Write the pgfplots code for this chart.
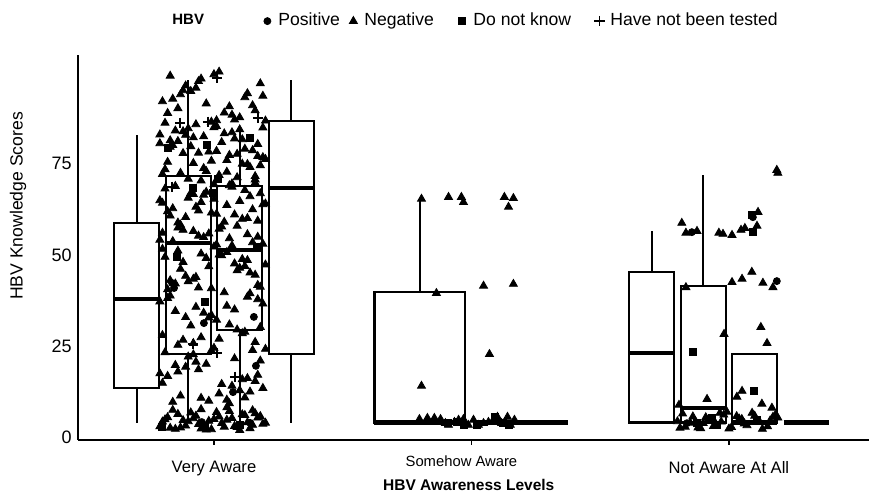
\documentclass[border=0pt]{standalone}
\usepackage{pgfplots}
\pgfplotsset{compat=1.18}
\usepackage{fontspec}
\setmainfont{Liberation Sans}
\begin{document}
\begin{tikzpicture}
\begin{axis}[
  at={(0pt,0pt)}, anchor=south west,
  scale only axis, width=395.5pt, height=192.5pt,
  xmin=0.472, xmax=3.544, ymin=-0.6, ymax=104.8,
  axis lines*=left,
  axis line style={line width=1pt},
  xtick={1,2,3},
  xticklabels={{\fontsize{8.3}{10}\selectfont Very Aware},{\hbox{\raisebox{2.5pt}[\height][\depth]{\fontsize{7.4}{9}\selectfont Somehow Aware}\kern10pt}},{\fontsize{8.3}{10}\selectfont Not Aware At All}},
  xticklabel style={yshift=-4.5pt},
  ytick={0,25,50,75},
  yticklabel style={font=\fontsize{9}{10}\selectfont, xshift=2.8pt},
  /pgf/number format/assume math mode=true,
  tick align=outside,
  major tick length=2.5pt,
  xtick style={line width=0.8pt, black},
  ytick style={draw=none},
  ylabel={HBV Knowledge Scores},
  ylabel style={at={(axis description cs:-0.0759,0.608)}, anchor=center, font=\fontsize{8.8}{10}\selectfont},
  xlabel={\textbf{HBV Awareness Levels}},
  xlabel style={at={(axis description cs:0.494,-0.117)}, anchor=center, font=\fontsize{7.75}{9}\selectfont},
  legend columns=-1,
  legend style={at={(axis description cs:0.1125,1.088)}, anchor=west, draw=none, fill=none, inner sep=0pt,
    font=\fontsize{8.8}{10}\selectfont, nodes={inner sep=0pt},
    /tikz/every even column/.append style={column sep=0pt},
    /tikz/every odd column/.append style={column sep=2.5pt}},
  legend image code/.code={\path[draw=none,fill=none] (-3pt,-3pt) rectangle (3pt,3pt); \draw[#1] plot coordinates {(0pt,0pt)};},
]
% ================= boxplots (box, whiskers, median) =================
% Very Aware - Positive
\addplot[forget plot, draw=black, fill=white, line width=1.1pt] coordinates {(0.6125,13.6)(0.7875,13.6)(0.7875,58.8)(0.6125,58.8)} -- cycle;
\addplot[forget plot, black, line width=1.1pt] coordinates {(0.7,58.8)(0.7,82.9)};
\addplot[forget plot, black, line width=1.1pt] coordinates {(0.7,4.17)(0.7,13.6)};
\addplot[forget plot, black, line width=2.2pt] coordinates {(0.6125,38.0)(0.7875,38.0)};
% Very Aware - Negative
\addplot[forget plot, draw=black, fill=white, line width=1.1pt] coordinates {(0.8125,22.9)(0.9875,22.9)(0.9875,71.7)(0.8125,71.7)} -- cycle;
\addplot[forget plot, black, line width=1.1pt] coordinates {(0.9,71.7)(0.9,97.9)};
\addplot[forget plot, black, line width=1.1pt] coordinates {(0.9,4.17)(0.9,22.9)};
\addplot[forget plot, black, line width=2.2pt] coordinates {(0.8125,53.3)(0.9875,53.3)};
% Very Aware - Do not know
\addplot[forget plot, draw=black, fill=white, line width=1.1pt] coordinates {(1.0125,29.5)(1.1875,29.5)(1.1875,69.0)(1.0125,69.0)} -- cycle;
\addplot[forget plot, black, line width=1.1pt] coordinates {(1.1,69.0)(1.1,83.7)};
\addplot[forget plot, black, line width=1.1pt] coordinates {(1.1,4.17)(1.1,29.5)};
\addplot[forget plot, black, line width=2.2pt] coordinates {(1.0125,51.4)(1.1875,51.4)};
% Very Aware - Have not been tested
\addplot[forget plot, draw=black, fill=white, line width=1.1pt] coordinates {(1.2125,22.9)(1.3875,22.9)(1.3875,86.7)(1.2125,86.7)} -- cycle;
\addplot[forget plot, black, line width=1.1pt] coordinates {(1.3,86.7)(1.3,97.9)};
\addplot[forget plot, black, line width=1.1pt] coordinates {(1.3,4.17)(1.3,22.9)};
\addplot[forget plot, black, line width=2.2pt] coordinates {(1.2125,68.4)(1.3875,68.4)};
% Somehow Aware - group 1
\addplot[forget plot, draw=black, fill=white, line width=1.1pt] coordinates {(1.6235,4.17)(1.9765,4.17)(1.9765,39.9)(1.6235,39.9)} -- cycle;
\addplot[forget plot, black, line width=1.1pt] coordinates {(1.8,39.9)(1.8,65.1)};
\addplot[forget plot, black, line width=2.2pt] coordinates {(1.6235,4.17)(1.9765,4.17)};
% Somehow Aware - group 2 (all equal)
\addplot[forget plot, black, line width=2.2pt] coordinates {(2.0235,4.17)(2.3765,4.17)};
% Not Aware - Positive
\addplot[forget plot, draw=black, fill=white, line width=1.1pt] coordinates {(2.6125,4.17)(2.7875,4.17)(2.7875,45.4)(2.6125,45.4)} -- cycle;
\addplot[forget plot, black, line width=1.1pt] coordinates {(2.7,45.4)(2.7,56.6)};
\addplot[forget plot, black, line width=2.2pt] coordinates {(2.6125,23.2)(2.7875,23.2)};
% Not Aware - Negative
\addplot[forget plot, draw=black, fill=white, line width=1.1pt] coordinates {(2.8125,4.17)(2.9875,4.17)(2.9875,41.6)(2.8125,41.6)} -- cycle;
\addplot[forget plot, black, line width=1.1pt] coordinates {(2.9,41.6)(2.9,71.9)};
\addplot[forget plot, black, line width=2.2pt] coordinates {(2.8125,8.2)(2.9875,8.2)};
% Not Aware - Do not know
\addplot[forget plot, draw=black, fill=white, line width=1.1pt] coordinates {(3.0125,4.17)(3.1875,4.17)(3.1875,22.9)(3.0125,22.9)} -- cycle;
\addplot[forget plot, black, line width=2.2pt] coordinates {(3.0125,4.17)(3.1875,4.17)};
% Not Aware - Have not been tested (all equal)
\addplot[forget plot, black, line width=2.2pt] coordinates {(3.2125,4.17)(3.3875,4.17)};
% ================= legend title =================
\addlegendimage{empty legend}
\addlegendentry{\makebox[44.5pt][l]{\fontsize{7.5}{9}\selectfont\textbf{HBV}}}
% ---- Positive (circles)
\addplot[only marks, mark=*, mark size=1.75pt, black] coordinates {
(0.837,42.4)(0.845,41.0)(0.961,31.4)(1.155,33.1)(1.163,19.7)(1.074,12.5)(0.953,4.3)(1.140,4.1)
(2.856,56.3)(3.093,60.4)(3.186,42.9)(2.837,4.0)
};
\addlegendentry{\makebox[34.5pt][l]{Positive}}
% ---- Negative (triangles)
\addplot[only marks, mark=triangle*, mark size=2.3pt, black] coordinates {
(0.80,92.1)(0.93,95.8)(1.07,88.4)(1.18,97.0)(0.86,90.2)(1.01,86.9)(1.13,94.3)(0.83,99.1)(0.97,91.5)(1.10,87.7)(1.19,93.6)(0.89,96.4)(1.04,89.0)(0.81,86.2)(0.95,98.3)(1.15,91.0)(0.91,94.9)(1.08,87.1)(0.84,92.8)(1.02,100.2)(1.16,89.6)(0.88,95.1)(0.99,86.5)(1.12,93.2)(0.82,88.9)(0.94,97.6)(1.06,90.7)(1.20,86.8)(0.87,94.0)(1.00,99.5)
(0.85,84.1)(0.98,78.3)(1.11,81.7)(0.79,83.0)(0.92,75.2)(1.05,72.8)(1.17,80.4)(0.88,77.9)(1.01,85.3)(1.14,74.1)(0.83,79.6)(0.96,82.5)(1.09,71.3)(1.19,76.8)(0.90,84.7)(1.03,80.9)(0.81,73.5)(0.94,78.0)(1.07,83.6)(1.16,70.7)(0.86,81.2)(0.99,75.8)(1.12,79.1)(0.80,72.2)(0.93,85.8)(1.06,77.4)(1.18,74.6)(0.89,82.9)(1.02,71.9)(1.15,78.7)(0.84,80.1)(0.97,73.0)(1.10,84.4)(1.20,76.3)(0.91,79.8)(1.04,83.3)(0.82,75.5)(0.95,70.4)(1.08,81.9)(1.17,77.1)(0.87,72.5)(1.00,85.0)(1.13,74.9)(0.79,80.6)(0.92,82.2)(1.05,76.0)(1.16,71.6)(0.88,83.9)(1.01,78.5)(1.11,75.0)(0.83,81.4)(0.96,73.8)(1.09,77.7)(1.19,84.9)(0.90,70.9)
(0.81,68.2)(0.95,64.5)(1.08,61.1)(1.18,66.9)(0.87,58.3)(1.00,69.4)(1.13,55.7)(0.84,62.8)(0.97,67.3)(1.11,59.9)(0.79,65.0)(0.92,56.6)(1.05,63.7)(1.16,69.8)(0.89,60.4)(1.02,57.2)(1.14,66.1)(0.82,62.0)(0.94,55.3)(1.07,68.7)(1.20,64.1)(0.86,58.9)(0.99,61.6)(1.12,67.8)(0.80,56.1)(0.93,63.2)(1.06,69.1)(1.17,59.4)(0.90,65.7)(1.03,57.8)(1.15,62.5)(0.85,68.9)(0.98,55.9)(1.10,64.8)(0.83,60.8)(0.96,66.5)(1.09,58.0)(1.19,63.9)(0.88,56.9)(1.01,61.3)(0.91,67.0)(1.04,59.1)(1.17,55.0)(0.80,64.3)(0.94,62.2)(1.07,69.6)(0.86,57.5)(1.00,65.4)(1.13,60.1)(0.92,66.7)
(0.84,53.8)(0.97,49.2)(1.10,46.5)(0.80,51.7)(0.93,44.0)(1.06,54.6)(1.18,41.3)(0.88,48.1)(1.01,52.9)(1.14,45.2)(0.82,40.6)(0.95,50.4)(1.08,47.7)(1.19,53.1)(0.90,42.8)(1.03,49.9)(1.16,44.6)(0.86,51.2)(0.99,40.9)(1.12,47.0)(0.79,54.2)(0.92,43.5)(1.05,50.8)(1.17,41.8)(0.87,46.2)(1.00,52.3)(1.13,48.6)(0.83,43.1)(0.96,54.9)(1.09,45.8)(0.81,49.5)(0.94,41.1)(1.07,52.6)(1.20,47.4)(0.89,44.3)(1.02,50.1)(1.15,53.5)(0.85,42.2)(0.98,46.9)(1.11,48.9)
(0.83,38.9)(0.96,34.2)(1.09,29.6)(1.19,36.7)(0.88,26.8)(1.01,32.3)(1.14,39.5)(0.80,28.1)(0.93,35.8)(1.06,31.0)(1.17,37.9)(0.86,25.4)(0.99,33.6)(1.12,29.0)(0.82,38.2)(0.95,27.5)(1.08,35.1)(0.91,30.7)(1.04,39.8)(1.16,26.2)(0.85,34.7)(0.98,32.9)(1.11,28.6)(0.79,37.3)(0.92,25.9)(1.05,36.1)(1.18,30.3)(0.89,33.0)(1.02,27.1)(1.13,38.6)
(0.81,23.4)(0.94,18.7)(1.07,14.2)(1.18,21.1)(0.87,11.5)(1.00,24.6)(1.13,16.3)(0.84,9.8)(0.97,20.2)(1.10,13.0)(0.79,17.6)(0.92,22.8)(1.05,10.4)(1.16,15.5)(0.89,19.4)(1.02,12.1)(1.15,24.0)(0.82,16.9)(0.95,10.9)(1.08,21.7)(1.19,13.6)(0.86,18.1)(0.99,23.9)(1.12,11.0)(0.80,15.0)(0.93,20.8)(1.06,9.4)(1.17,17.2)(0.90,22.2)(1.03,14.7)(1.14,12.6)(0.85,19.9)(0.98,10.1)(1.11,16.0)(1.20,24.3)
(0.79,3.1)(0.82,5.6)(0.85,2.4)(0.88,4.8)(0.91,6.9)(0.94,3.7)(0.97,2.2)(1.00,5.1)(1.03,4.0)(1.06,7.3)(1.09,2.9)(1.12,6.2)(1.15,3.5)(1.18,5.9)(0.80,4.4)(0.83,2.7)(0.86,6.5)(0.89,3.3)(0.92,5.3)(0.95,2.5)(0.98,4.6)(1.01,7.0)(1.04,3.0)(1.07,5.4)(1.10,2.1)(1.13,4.2)(1.16,6.7)(1.19,3.8)(0.81,5.0)(0.84,7.6)(0.87,2.8)(0.90,4.5)(0.93,6.0)(0.96,3.4)(0.99,2.3)(1.02,5.8)(1.05,4.9)(1.08,3.2)(1.11,6.4)(1.14,2.6)(1.17,5.5)(1.20,4.1)(0.95,7.8)(1.05,8.3)(1.15,7.5)
(1.806,65.4)(1.911,65.9)(1.961,65.9)(1.969,64.5)(2.128,65.9)(2.163,65.6)(2.144,63.2)(1.864,39.6)(2.047,41.6)(2.163,42.1)(2.070,22.9)(1.806,14.2)
(1.798,5.1)(1.829,5.4)(1.856,5.4)(1.880,5.1)(1.899,4.0)(1.911,3.5)(1.934,4.3)(1.950,4.9)(1.969,5.1)(1.988,3.5)(2.008,4.9)(2.027,3.5)(2.047,4.0)(2.066,4.3)(2.085,4.9)(2.101,5.7)(2.117,4.0)(2.140,5.7)(2.151,3.5)(2.167,4.9)
(3.186,73.3)(3.190,72.5)(3.113,61.8)(3.109,58.0)(2.817,58.8)(2.833,56.1)(2.876,56.6)(2.961,56.1)(2.977,55.8)(3.012,55.5)(3.047,56.9)(3.062,57.4)(3.012,42.6)(3.051,43.5)(3.089,45.4)(3.132,42.4)(3.171,41.2)(2.833,41.2)(2.981,28.4)(3.124,30.3)(3.148,25.9)(2.915,10.6)(3.051,12.8)(3.031,11.2)(3.128,9.3)(3.167,8.2)(3.171,5.7)(2.806,9.0)(2.992,7.1)(2.965,6.8)
(2.80,4.5)(2.83,3.0)(2.86,5.8)(2.89,2.6)(2.92,4.9)(2.95,3.7)(2.98,6.3)(3.01,2.9)(3.04,5.2)(3.07,3.4)(3.10,6.0)(3.13,2.4)(3.16,4.7)(3.19,5.5)(2.82,6.6)(2.85,4.1)(2.88,2.8)(2.91,5.6)(2.94,3.2)(2.97,4.4)(3.00,2.5)(3.03,5.9)(3.06,3.9)(3.09,6.8)(3.12,4.3)(3.15,3.1)(3.18,6.2)(2.81,2.7)(2.90,4.0)(3.05,5.1)
};
\addlegendentry{\makebox[46pt][l]{Negative}}
% ---- Do not know (squares)
\addplot[only marks, mark=square*, mark size=1.75pt, black] coordinates {
(0.821,79.3)(0.973,80.2)(0.918,68.4)(1.016,70.8)(0.996,67.0)(1.140,82.1)(1.167,52.2)(0.856,49.5)(0.965,37.2)(0.798,3.0)(0.965,3.0)(1.101,3.5)
(1.907,4.0)(1.942,4.3)(1.969,3.6)(2.093,5.7)(2.124,4.0)(2.144,3.5)(2.023,3.5)
(2.860,23.5)(3.097,12.8)(3.089,60.9)(3.093,56.3)(2.876,4.0)(2.934,5.4)(2.953,3.5)(3.109,4.9)
};
\addlegendentry{\makebox[60pt][l]{Do not know}}
% ---- Have not been tested (plus)
\addplot[only marks, mark=+, mark size=2.6pt, line width=0.7pt, black] coordinates {
(1.012,98.5)(0.868,86.2)(0.977,86.5)(1.171,87.6)(0.837,68.7)(0.918,25.7)(1.012,23.2)(1.082,16.7)
};
\addlegendentry{Have not been tested}
\end{axis}
\pgfresetboundingbox
\path[use as bounding box] (-39pt,-26pt) rectangle (395.5pt,220pt);
\end{tikzpicture}
\end{document}
